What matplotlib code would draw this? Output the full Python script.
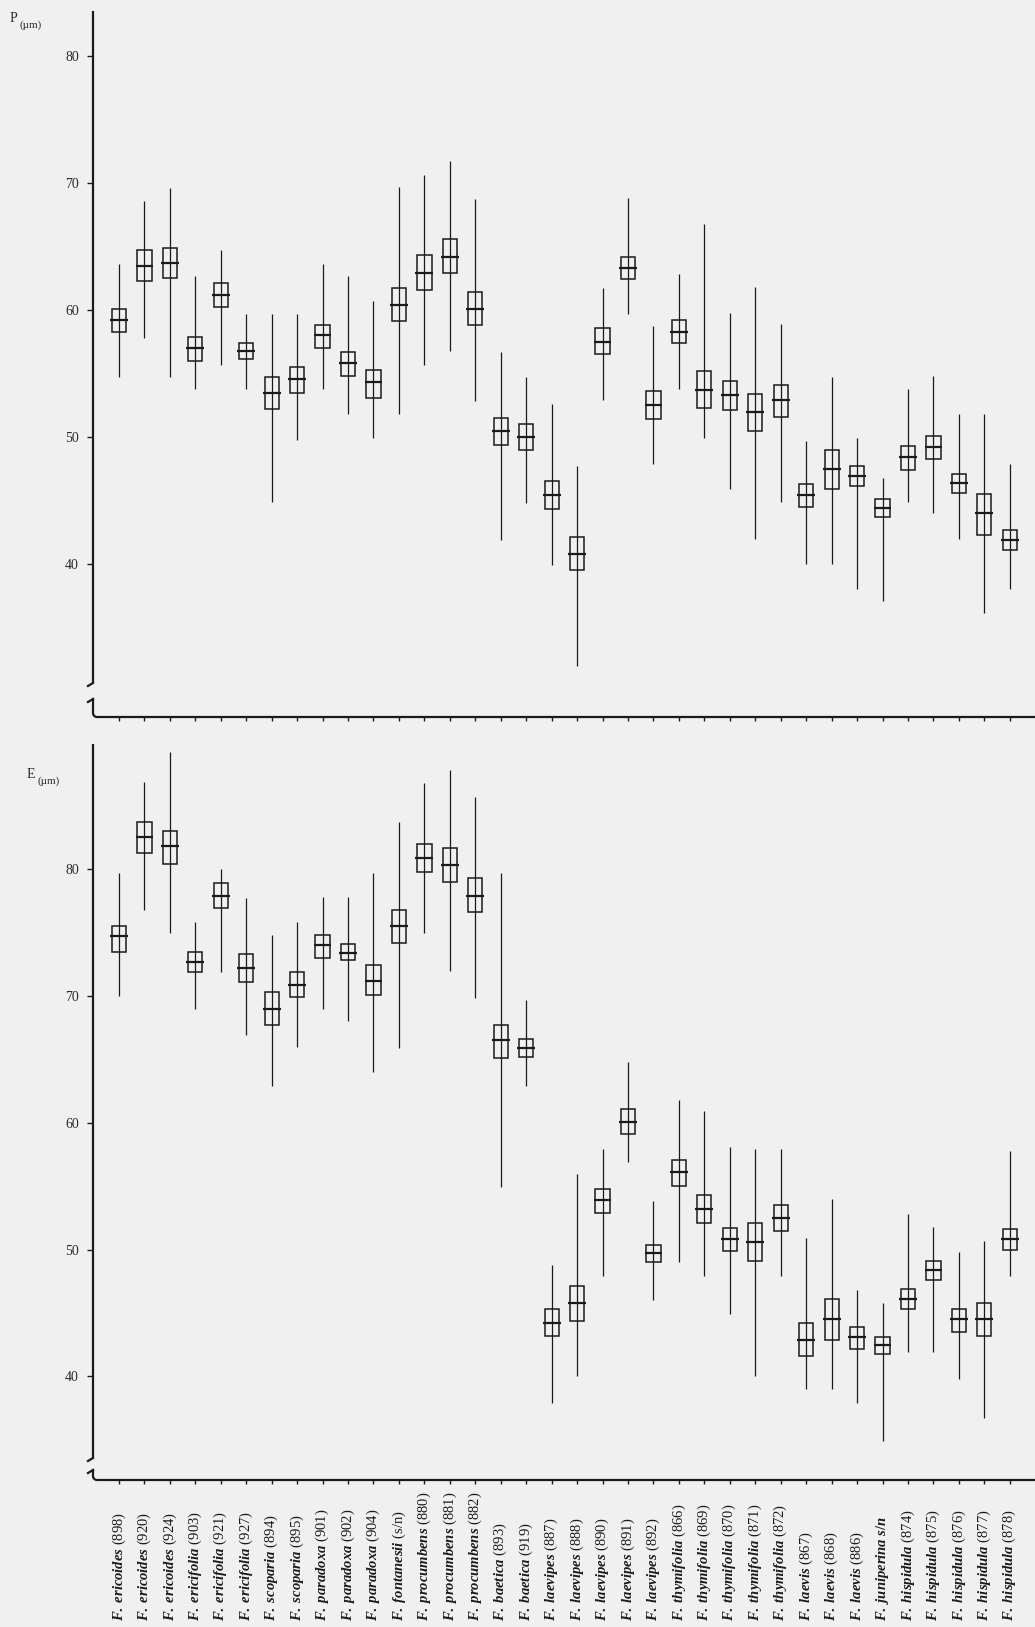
import matplotlib
matplotlib.use("Agg")
import matplotlib.pyplot as plt
from matplotlib.patches import Rectangle
from matplotlib.transforms import blended_transform_factory
import numpy as np

plt.rcParams['font.family'] = ['Liberation Serif', 'DejaVu Serif']
plt.rcParams['mathtext.fontset'] = 'custom'
plt.rcParams['mathtext.it'] = 'Liberation Serif:italic:bold'
plt.rcParams['mathtext.rm'] = 'Liberation Serif:bold'

# ---------------- data ----------------
species = ["ericoides", "ericoides", "ericoides", "ericifolia", "ericifolia", "ericifolia",
           "scoparia", "scoparia", "paradoxa", "paradoxa", "paradoxa", "fontanesii",
           "procumbens", "procumbens", "procumbens", "baetica", "baetica",
           "laevipes", "laevipes", "laevipes", "laevipes", "laevipes",
           "thymifolia", "thymifolia", "thymifolia", "thymifolia", "thymifolia",
           "laevis", "laevis", "laevis", "juniperina",
           "hispidula", "hispidula", "hispidula", "hispidula", "hispidula"]
codes = ["(898)", "(920)", "(924)", "(903)", "(921)", "(927)", "(894)", "(895)",
         "(901)", "(902)", "(904)", "(s/n)", "(880)", "(881)", "(882)", "(893)", "(919)",
         "(887)", "(888)", "(890)", "(891)", "(892)", "(866)", "(869)", "(870)", "(871)",
         "(872)", "(867)", "(868)", "(886)", "s/n", "(874)", "(875)", "(876)", "(877)", "(878)"]

# P (polar axis, um): whisker max, box top, centre line, box bottom, whisker min
P_max = [63.6, 68.6, 69.6, 62.7, 64.7, 59.7, 59.7, 59.7, 63.6, 62.7, 60.7, 69.7,
         70.6, 71.7, 68.7, 56.7, 54.7, 52.6, 47.7, 61.7, 68.8, 58.7, 62.8, 66.8,
         59.8, 61.8, 58.9, 49.7, 54.7, 49.9, 46.8, 53.8, 54.8, 51.8, 51.8, 47.9]
P_hi = [60.1, 64.7, 64.9, 57.9, 62.1, 57.4, 54.7, 55.5, 58.8, 56.7, 55.3, 61.7,
        64.3, 65.6, 61.4, 51.5, 51.0, 46.5, 42.1, 58.6, 64.2, 53.6, 59.2, 55.2,
        54.4, 53.4, 54.1, 46.3, 49.0, 47.7, 45.1, 49.3, 50.1, 47.1, 45.5, 42.7]
P_mid = [59.2, 63.5, 63.7, 57.0, 61.2, 56.8, 53.5, 54.6, 58.0, 55.8, 54.3, 60.4,
         62.9, 64.2, 60.1, 50.5, 50.0, 45.4, 40.8, 57.5, 63.3, 52.5, 58.3, 53.7,
         53.3, 52.0, 52.9, 45.4, 47.5, 46.9, 44.4, 48.4, 49.2, 46.4, 44.0, 41.9]
P_lo = [58.3, 62.3, 62.5, 56.0, 60.2, 56.1, 52.2, 53.5, 57.0, 54.8, 53.1, 59.1,
        61.6, 62.9, 58.8, 49.4, 49.0, 44.3, 39.5, 56.5, 62.4, 51.4, 57.4, 52.3,
        52.1, 50.5, 51.6, 44.5, 45.9, 46.1, 43.7, 47.4, 48.3, 45.6, 42.3, 41.1]
P_min = [54.7, 57.8, 54.7, 53.8, 55.7, 53.8, 44.9, 49.8, 53.8, 51.8, 49.9, 51.8,
         55.7, 56.8, 52.8, 41.9, 44.8, 39.9, 32.0, 52.9, 59.7, 47.9, 53.8, 49.9,
         45.9, 42.0, 44.9, 40.0, 40.0, 38.0, 37.1, 44.9, 44.0, 42.0, 36.1, 38.0]

# E (equatorial axis, um)
E_max = [79.7, 86.9, 89.2, 75.8, 80.0, 77.7, 74.8, 75.8, 77.8, 77.8, 79.7, 83.7,
         86.8, 87.8, 85.7, 79.7, 69.7, 48.8, 56.0, 57.9, 64.8, 53.8, 61.8, 60.9,
         58.1, 57.9, 57.9, 50.9, 54.0, 46.8, 45.8, 52.8, 51.8, 49.8, 50.7, 57.8]
E_hi = [75.5, 83.7, 83.0, 73.5, 78.9, 73.3, 70.3, 71.9, 74.8, 74.1, 72.4, 76.8,
        82.0, 81.7, 79.3, 67.7, 66.6, 45.3, 47.1, 54.8, 61.1, 50.4, 57.1, 54.3,
        51.7, 52.1, 53.5, 44.2, 46.1, 43.9, 43.1, 46.9, 49.1, 45.3, 45.8, 51.6]
E_mid = [74.7, 82.5, 81.8, 72.7, 77.9, 72.2, 69.0, 70.9, 74.0, 73.4, 71.2, 75.5,
         80.9, 80.3, 77.9, 66.5, 65.9, 44.2, 45.8, 53.9, 60.1, 49.7, 56.1, 53.2,
         50.8, 50.6, 52.5, 42.9, 44.5, 43.1, 42.5, 46.1, 48.4, 44.5, 44.5, 50.8]
E_lo = [73.5, 81.3, 80.4, 71.9, 76.9, 71.1, 67.7, 69.9, 73.0, 72.8, 70.1, 74.2,
        79.8, 79.0, 76.6, 65.1, 65.2, 43.2, 44.4, 52.9, 59.1, 49.0, 55.0, 52.1,
        49.9, 49.1, 51.5, 41.6, 42.9, 42.2, 41.8, 45.3, 47.6, 43.5, 43.2, 50.0]
E_min = [70.0, 76.8, 75.0, 69.0, 71.9, 66.9, 62.9, 66.0, 69.0, 68.0, 64.0, 65.9,
         75.0, 72.0, 69.8, 54.9, 62.9, 37.9, 40.0, 47.9, 56.9, 46.0, 49.0, 47.9,
         44.9, 40.0, 47.9, 39.0, 39.0, 37.9, 34.9, 41.9, 41.9, 39.8, 36.7, 47.9]

yticks = [40, 50, 60, 70, 80]

# ---------------- layout ----------------
W, H = 1035, 1627
BG = '#f0f0f0'
INK = '#1a1a1a'
fig = plt.figure(figsize=(W / 100, H / 100), dpi=100, facecolor=BG)


def px_axes(left, top, right, bottom):
    return fig.add_axes([left / W, 1 - bottom / H, (right - left) / W, (bottom - top) / H])


def draw_panel(ax, vmax, vhi, vmid, vlo, vmin, ylim, brk_end, brk_start, wpx, hpx):
    n = len(vmid)
    xs = np.arange(n)
    ax.set_xlim(-1.02, 35.99)
    ax.set_ylim(*ylim)
    ax.set_facecolor('none')
    for s in ax.spines.values():
        s.set_visible(False)
    bw = 0.56
    for i in range(n):
        ax.plot([xs[i], xs[i]], [vmin[i], vmax[i]], color=INK, lw=0.9,
                solid_capstyle='butt', zorder=2)
        ax.add_patch(Rectangle((xs[i] - bw / 2, vlo[i]), bw, vhi[i] - vlo[i], fill=False,
                               ec=INK, lw=1.1, zorder=3))
        ax.plot([xs[i] - 0.35, xs[i] + 0.35], [vmid[i], vmid[i]], color=INK, lw=1.6,
                solid_capstyle='butt', zorder=4)
    # ticks
    ax.set_yticks(yticks)
    ax.set_yticklabels([str(t) for t in yticks], fontsize=10, color='#2a2a2a')
    ax.set_xticks(xs)
    ax.set_xticklabels([])
    ax.tick_params(axis='y', direction='out', length=4, width=1.0, pad=6, color=INK)
    ax.tick_params(axis='x', direction='out', length=3, width=1.0, color=INK)
    # custom axis lines with break
    T = ax.transAxes
    dx, dy = 1.0 / wpx, 1.0 / hpx
    alw = 1.6
    ax.plot([0, 0], [1, brk_end * dy], color=INK, lw=alw, transform=T, clip_on=False,
            solid_capstyle='butt')
    ax.plot([0, -5 * dx], [brk_end * dy, (brk_end - 3) * dy], color=INK, lw=alw,
            transform=T, clip_on=False)
    ax.plot([-5 * dx, 0], [(brk_start - 3) * dy, brk_start * dy], color=INK, lw=alw,
            transform=T, clip_on=False)
    th = np.linspace(np.pi, 1.5 * np.pi, 8)
    r = 4
    cx = r + r * np.cos(th)
    cy = r + r * np.sin(th)
    xx = np.concatenate([[0], cx, [wpx + 5]]) * dx
    yy = np.concatenate([[brk_start], cy, [0]]) * dy
    ax.plot(xx, yy, color=INK, lw=alw, transform=T, clip_on=False)


# top panel: P
L, R = 93, 1035
top_t, top_b = 11, 717
axP = px_axes(L, top_t, R, top_b)
draw_panel(axP, P_max, P_hi, P_mid, P_lo, P_min, (27.95, 83.54), 34, 18,
           R - L, top_b - top_t)

# bottom panel: E
bot_t, bot_b = 744, 1480
axE = px_axes(L, bot_t, R, bot_b)
draw_panel(axE, E_max, E_hi, E_mid, E_lo, E_min, (31.84, 89.86), 22, 10,
           R - L, bot_b - bot_t)

# axis titles
fig.text(10 / W, 1 - 22 / H, "P", fontsize=10, color='#2a2a2a', ha='left', va='baseline')
fig.text(20 / W, 1 - 28 / H, "(\u00b5m)", fontsize=8, color='#2a2a2a', ha='left', va='baseline')
fig.text(27 / W, 1 - 778 / H, "E", fontsize=10, color='#2a2a2a', ha='left', va='baseline')
fig.text(37 / W, 1 - 784 / H, "(\u00b5m)", fontsize=8, color='#2a2a2a', ha='left', va='baseline')

# category labels
tr = blended_transform_factory(axE.transData, fig.transFigure)
for i, (sp, cd) in enumerate(zip(species, codes)):
    if cd.startswith("("):
        lab = r"$\mathit{F.\;" + sp + r"}$ " + cd
    else:
        lab = r"$\mathit{F.\;" + sp + r"\;" + cd + r"}$"
    axE.text(i, 1 - 1621 / H, lab, transform=tr, rotation=90, ha='center', va='bottom',
             fontsize=10.5, color='#1a1a1a')

fig.savefig("out.png", dpi=100, facecolor=BG)
